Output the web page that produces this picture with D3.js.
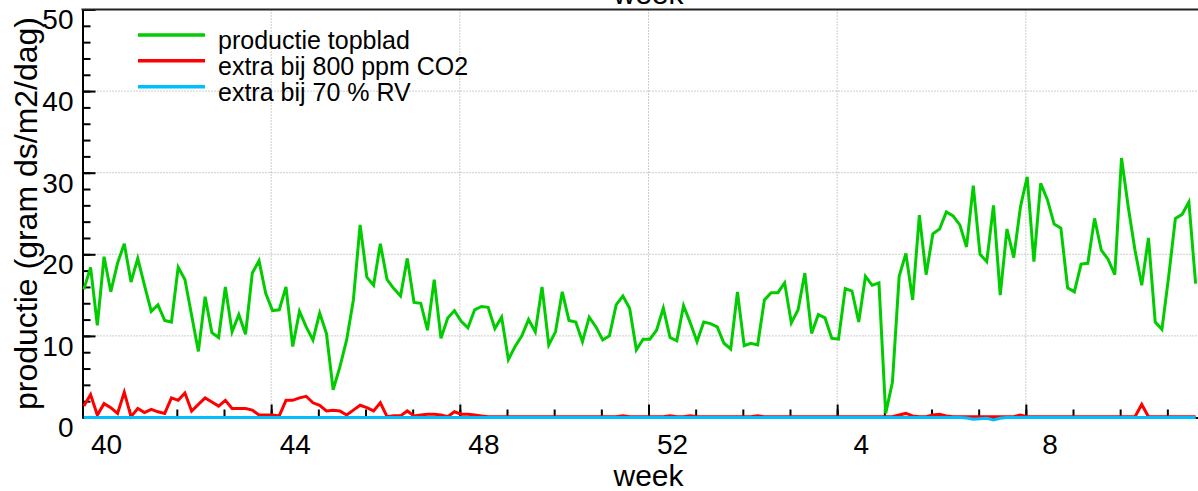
<!DOCTYPE html>
<html>
<head>
<meta charset="utf-8">
<script src="https://cdn.jsdelivr.net/npm/d3@7"></script>
<style>
  html, body { margin: 0; padding: 0; background: #fff; }
  svg { display: block; font-family: "Liberation Sans", Arial, sans-serif; }
</style>
</head>
<body>
<svg id="chart" width="1198" height="491"></svg>
<script>
// Weeks on the time axis (one tick per week, a label every fourth week)
const weeks = [40, 41, 42, 43, 44, 45, 46, 47, 48, 49, 50, 51, 52, 1, 2, 3, 4, 5, 6, 7, 8, 9, 10, 11];
const labelledWeeks = [40, 44, 48, 52, 4, 8];
const yMajorTicks = [0, 10, 20, 30, 40, 50];

const seriesNames = ["productie topblad", "extra bij 800 ppm CO2", "extra bij 70 % RV"];

// Daily production of the top leaf (gram ds/m2/dag)
const topblad = [
  15.7, 18.4, 11.3, 19.7, 15.4, 18.9, 21.3, 16.6, 19.5, 16.2,
  13.0, 13.8, 11.9, 11.7, 18.4, 16.9, 12.5, 8.1, 14.8, 10.4,
  9.8, 16.0, 10.5, 12.6, 10.2, 17.7, 19.2, 15.2, 13.1, 13.2,
  16.0, 8.7, 13.0, 11.1, 9.5, 12.8, 10.3, 3.4, 6.2, 9.5,
  14.4, 23.6, 17.2, 16.2, 21.3, 16.9, 15.8, 14.9, 19.5, 14.1,
  14.0, 10.7, 16.9, 9.7, 12.2, 13.1, 11.8, 11.0, 13.2, 13.6,
  13.5, 10.9, 12.3, 7.1, 8.7, 10.0, 12.0, 10.5, 16.0, 8.9,
  10.5, 15.4, 11.9, 11.7, 9.3, 12.3, 11.1, 9.5, 10.0, 13.8,
  14.9, 13.4, 8.3, 9.6, 9.6, 10.7, 13.4, 9.8, 9.4, 13.7,
  11.6, 9.3, 11.7, 11.5, 11.1, 9.1, 8.4, 15.4, 8.8, 9.1,
  8.9, 14.4, 15.3, 15.3, 16.5, 11.6, 13.2, 17.7, 10.3, 12.6,
  12.2, 9.7, 9.6, 15.8, 15.5, 11.7, 17.3, 16.2, 16.5, 0.5,
  4.3, 17.3, 20.1, 14.4, 24.8, 17.5, 22.5, 23.1, 25.2, 24.7,
  23.6, 20.9, 28.4, 20.0, 19.1, 26.0, 15.0, 23.1, 19.6, 25.8,
  29.5, 19.1, 28.7, 26.7, 23.7, 23.2, 15.9, 15.4, 18.8, 18.9,
  24.4, 20.5, 19.4, 17.5, 31.8, 25.8, 20.5, 16.2, 22.0, 11.7,
  10.8, 17.3, 24.4, 24.9, 26.4, 16.4
];

// Extra production at 800 ppm CO2
const extraCO2 = [
  1.4, 2.8, 0.3, 1.7, 1.2, 0.5, 3.1, 0.1, 1.1, 0.6,
  1.0, 0.7, 0.5, 2.4, 2.1, 3.0, 0.8, 1.6, 2.4, 1.9,
  1.4, 2.1, 1.1, 1.1, 1.1, 0.9, 0.3, 0.3, 0.3, 0.2,
  2.1, 2.1, 2.4, 2.6, 1.8, 1.5, 0.8, 0.9, 0.8, 0.3,
  0.9, 1.5, 1.2, 0.8, 1.8, 0.1, 0.2, 0.2, 0.8, 0.2,
  0.3, 0.4, 0.4, 0.3, 0.1, 0.7, 0.4, 0.4, 0.3, 0.2,
  0.1, 0.1, 0.1, 0.1, 0.1, 0.1, 0.1, 0.1, 0.1, 0.1,
  0.1, 0.1, 0.1, 0.1, 0.1, 0.1, 0.1, 0.1, 0.1, 0.1,
  0.2, 0.1, 0.1, 0.1, 0.1, 0.1, 0.1, 0.2, 0.1, 0.1,
  0.2, 0.1, 0.1, 0.1, 0.1, 0.1, 0.1, 0.1, 0.1, 0.1,
  0.2, 0.1, 0.1, 0.1, 0.1, 0.1, 0.1, 0.1, 0.1, 0.1,
  0.1, 0.1, 0.1, 0.1, 0.1, 0.1, 0.1, 0.1, 0.1, 0.1,
  0.1, 0.3, 0.5, 0.2, 0.1, 0.1, 0.3, 0.4, 0.2, 0.1,
  0.1, 0.1, 0.1, 0.1, 0.1, 0.1, 0.1, 0.1, 0.1, 0.3,
  0.1, 0.1, 0.1, 0.1, 0.1, 0.1, 0.1, 0.1, 0.1, 0.1,
  0.1, 0.1, 0.1, 0.1, 0.1, 0.1, 0.1, 1.6, 0.1, 0.1,
  0.1, 0.1, 0.1, 0.1, 0.1, 0.1
];

// Extra production at 70 % RV
const extraRV = [
  0, 0, 0, 0, 0, 0, 0, 0, 0, 0,
  0, 0, 0, 0, 0, 0, 0, 0, 0, 0,
  0, 0, 0, 0, 0, 0, 0, 0, 0, 0,
  0, 0, 0, 0, 0, 0, 0, 0, 0, 0,
  0, 0, 0, 0, 0, 0, 0, 0, 0, 0,
  0, 0, 0, 0, 0, 0, 0, 0, 0, 0,
  0, 0, 0, 0, 0, 0, 0, 0, 0, 0,
  0, 0, 0, 0, 0, 0, 0, 0, 0, 0,
  0, 0, 0, 0, 0, 0, 0, 0, 0, 0,
  0, 0, 0, 0, 0, 0, 0, 0, 0, 0,
  0, 0, 0, 0, 0, 0, 0, 0, 0, 0,
  0, 0, 0, 0, 0, 0, 0, 0, 0, 0,
  0, 0, 0, 0, 0, 0, 0, 0, 0, 0,
  0, -0.05, -0.2, -0.15, -0.1, -0.3, -0.1, 0, 0, 0,
  0, 0, 0, 0, 0, 0, 0, 0, 0, 0,
  0, 0, 0, 0, 0, 0, 0, 0, 0, 0,
  0, 0, 0, 0, 0, 0
];

const colors = ["#00cc00", "#ff0000", "#00bfff"];
const allSeries = [topblad, extraCO2, extraRV];

const svg = d3.select("#chart");
const W = 1198, H = 491;
svg.append("rect").attr("width", W).attr("height", H).attr("fill", "#fff");

const plot = { left: 82.5, right: 1214.5, top: 9.5, bottom: 417.5 };
const nDays = weeks.length * 7;

const x = d3.scaleLinear().domain([0, nDays]).range([plot.left, plot.right]);
const y = d3.scaleLinear().domain([0, 50]).range([plot.bottom, plot.top]);

const weekStarts = d3.range(0, nDays + 1, 7);
const majorStarts = weekStarts.filter(d => d > 0 && d < nDays && (d / 7) % 4 === 0);

// Dotted grid
const grid = svg.append("g").attr("stroke", "#999").attr("stroke-width", 1)
  .attr("stroke-dasharray", "1,2");
grid.selectAll("line.h").data(yMajorTicks.filter(v => v > 0 && v < 50)).join("line")
  .attr("x1", plot.left).attr("x2", plot.right)
  .attr("y1", d => y(d)).attr("y2", d => y(d));
grid.selectAll("line.v").data(majorStarts).join("line")
  .attr("x1", d => x(d)).attr("x2", d => x(d))
  .attr("y1", plot.top).attr("y2", plot.bottom);

// Y axis: minor ticks every 2, major every 10, ticks pointing inward
const yMinor = svg.append("g").attr("transform", `translate(${plot.left},0)`)
  .call(d3.axisLeft(y).tickValues(d3.range(0, 51, 2)).tickSize(-8).tickSizeOuter(0).tickFormat(""));
const yMajor = svg.append("g").attr("transform", `translate(${plot.left},0)`)
  .call(d3.axisLeft(y).tickValues(yMajorTicks).tickSize(-13).tickSizeOuter(0).tickPadding(9));
yMajor.selectAll("text").attr("font-size", 28).attr("fill", "#000").attr("dy", "0.69em")
  .attr("font-family", "Liberation Sans, Arial, sans-serif");

// X axis: a tick per week, longer ticks every fourth week
const xMinor = svg.append("g").attr("transform", `translate(0,${plot.bottom})`)
  .call(d3.axisBottom(x).tickValues(weekStarts).tickSize(-8).tickSizeOuter(0).tickFormat(""));
const xMajor = svg.append("g").attr("transform", `translate(0,${plot.bottom})`)
  .call(d3.axisBottom(x).tickValues(d3.range(0, nDays + 1, 28)).tickSize(-13).tickSizeOuter(0).tickFormat(""));

// Week labels centred on their week
const labelDays = labelledWeeks.map(w => weeks.indexOf(w) * 7 + 3.5);
const xLabels = svg.append("g").attr("transform", `translate(0,${plot.bottom})`)
  .call(d3.axisBottom(x).tickValues(labelDays).tickSize(0).tickSizeOuter(0)
    .tickFormat(d => weeks[Math.floor(d / 7)]));
xLabels.select(".domain").remove();
xLabels.selectAll("text").attr("font-size", 28).attr("fill", "#000")
  .attr("y", 17).attr("dy", "0.71em")
  .attr("font-family", "Liberation Sans, Arial, sans-serif");

[yMinor, yMajor, xMinor, xMajor].forEach(g => {
  g.selectAll(".tick line").attr("stroke", "#000").attr("stroke-width", 2);
  g.select(".domain").attr("stroke", "#000").attr("stroke-width", 2);
});

// Top frame
svg.append("line").attr("x1", plot.left - 1).attr("x2", plot.right)
  .attr("y1", plot.top).attr("y2", plot.top)
  .attr("stroke", "#222").attr("stroke-width", 2);

// Series
const line = d3.line().x((d, i) => x(i + 0.2)).y(d => y(d));
allSeries.forEach((s, k) => {
  svg.append("path").datum(s)
    .attr("fill", "none")
    .attr("stroke", colors[k])
    .attr("stroke-width", 3)
    .attr("stroke-linejoin", "miter")
    .attr("d", line);
});

// Legend
const legend = svg.append("g");
seriesNames.forEach((name, k) => {
  const ly = 35 + k * 25.85;
  legend.append("line").attr("x1", 138).attr("x2", 205).attr("y1", ly).attr("y2", ly)
    .attr("stroke", colors[k]).attr("stroke-width", 3.5);
  legend.append("text").attr("x", 218).attr("y", ly + 14)
    .attr("font-size", 25).attr("fill", "#000").text(name);
});

// Axis titles
const xMid = (plot.left + plot.right) / 2;
svg.append("text").attr("x", xMid).attr("y", 486).attr("text-anchor", "middle")
  .attr("font-size", 30).attr("fill", "#000").text("week");
svg.append("text").attr("x", xMid).attr("y", 3.5).attr("text-anchor", "middle")
  .attr("font-size", 30).attr("fill", "#000").text("week");
svg.append("text")
  .attr("transform", `translate(37,${(plot.top + plot.bottom) / 2}) rotate(-90)`)
  .attr("text-anchor", "middle").attr("font-size", 32).attr("fill", "#000")
  .text("productie (gram ds/m2/dag)");
</script>
</body>
</html>
